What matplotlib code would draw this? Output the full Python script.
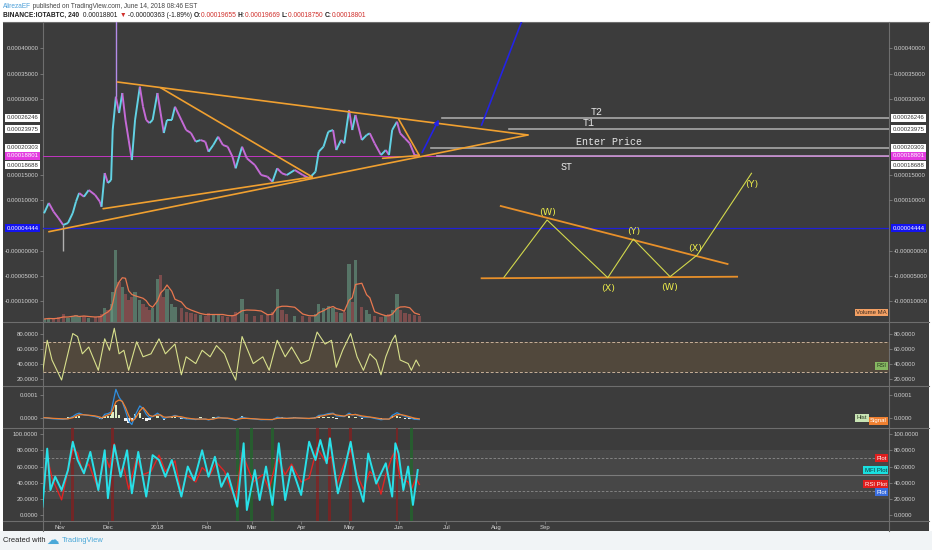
import matplotlib
matplotlib.use("Agg")
import matplotlib.pyplot as plt
import matplotlib.dates as mdates
from matplotlib.collections import LineCollection
from matplotlib.lines import Line2D
from matplotlib.patches import Rectangle
from matplotlib.transforms import blended_transform_factory as blend
import numpy as np
import pandas as pd

FONT = ["Liberation Sans", "DejaVu Sans"]
plt.rcParams["font.family"] = FONT

# ---------------- data ----------------
price_dates = ["2017-10-22", "2017-10-25", "2017-10-28", "2017-10-31", "2017-11-03", "2017-11-06",
               "2017-11-09", "2017-11-11", "2017-11-13", "2017-11-16", "2017-11-19", "2017-11-23",
               "2017-11-26", "2017-11-27", "2017-11-29", "2017-12-01", "2017-12-03", "2017-12-04",
               "2017-12-06", "2017-12-08", "2017-12-10", "2017-12-12", "2017-12-14", "2017-12-16",
               "2017-12-18", "2017-12-21", "2017-12-23", "2017-12-25", "2017-12-27", "2017-12-29",
               "2018-01-01", "2018-01-03", "2018-01-05", "2018-01-07", "2018-01-10", "2018-01-12",
               "2018-01-16", "2018-01-19", "2018-01-22", "2018-01-25", "2018-01-28", "2018-01-31",
               "2018-02-02", "2018-02-05", "2018-02-08", "2018-02-11", "2018-02-14", "2018-02-17",
               "2018-02-19", "2018-02-23", "2018-02-26", "2018-03-03", "2018-03-07", "2018-03-11",
               "2018-03-14", "2018-03-17", "2018-03-20", "2018-03-23", "2018-03-28", "2018-04-02",
               "2018-04-06", "2018-04-10", "2018-04-12", "2018-04-15", "2018-04-18", "2018-04-21",
               "2018-04-23", "2018-04-26", "2018-04-28", "2018-05-01", "2018-05-03", "2018-05-05",
               "2018-05-09", "2018-05-12", "2018-05-14", "2018-05-17", "2018-05-21", "2018-05-24",
               "2018-05-26", "2018-05-28", "2018-05-31", "2018-06-02", "2018-06-05", "2018-06-08",
               "2018-06-11", "2018-06-14"]
# close price in satoshi (1e-8 BTC)
price_sat = [7390, 9430, 7710, 6460, 5080, 5470, 7450, 9680, 11400, 10670, 11990, 11010,
             9680, 8690, 15350, 13380, 13970, 23850, 30430, 27210, 31160, 25830, 21870, 17920,
             25830, 32410, 28450, 25830, 25230, 25830, 31160, 27210, 23260, 25830, 25830, 28450,
             25830, 23850, 23260, 21540, 21870, 21540, 19560, 20890, 22530, 20890, 20550, 18570,
             16280, 20550, 18260, 16930, 14960, 14620, 13630, 16280, 15290, 14960, 15950, 14960,
             14310, 15610, 19560, 20550, 23510, 23850, 19900, 21870, 21220, 27800, 23850, 26810,
             21870, 22860, 23200, 21220, 18910, 19900, 18910, 23850, 25490, 23200, 22210, 21220,
             18910, 18801]
# long wicks (satoshi)
wick_dates = ["2017-12-06", "2017-11-03"]
wick_low = [30430, 0]
wick_high = [48000, 5080]
# volume (arbitrary units)
volume = [3, 4, 3, 5, 8, 4, 6, 7, 5, 6, 4, 5, 6, 8, 14, 12, 18, 30, 72, 40, 35, 28, 22, 25,
          30, 22, 18, 15, 12, 14, 43, 47, 25, 33, 18, 15, 14, 10, 9, 8, 7, 6, 9, 8, 7, 6,
          5, 7, 10, 23, 8, 6, 7, 8, 10, 33, 12, 8, 6, 6, 5, 8, 18, 14, 16, 14, 10, 9, 10,
          58, 20, 62, 15, 12, 8, 6, 5, 6, 8, 12, 28, 12, 9, 8, 7, 6]
# MACD (x1e-5) on price dates
macd = [0.0, -0.3, -0.5, -0.6, -0.7, -0.4, 0.5, 1.5, 2.0, 1.2, 1.0, 0.5, -0.2, -0.5,
        1.5, 1.8, 2.5, 6.0, 12.5, 9.0, 7.0, 3.0, -1.5, -3.0, 1.0, 5.2, 4.0, 1.5, 0.0, 0.5,
        2.0, 1.0, -0.5, 0.2, 0.5, 1.0,
        0.0, -0.5, -0.6, -0.8, -0.5, -0.6, -1.0, -0.5, 0.3, -0.2, -0.3, -0.8, -1.2, 0.3, -0.3,
        -0.6, -0.9, -0.8, -0.9, 0.2, -0.1, -0.3, 0.0, -0.3, -0.4, 0.0, 1.0, 1.2, 1.8, 2.0,
        0.8, 0.6, 0.5, 2.0, 1.2, 1.5, 0.3, 0.2, 0.2, -0.3, -0.9, -0.6, -0.7, 1.0, 2.2,
        1.5, 0.6, 0.0, -0.7, -0.8]
signal = [0.0, -0.1, -0.3, -0.4, -0.5, -0.5, 0.0, 0.7, 1.3, 1.3, 1.1, 0.8, 0.3, -0.1,
          0.6, 1.2, 1.8, 3.5, 7.0, 7.8, 7.2, 4.5, 1.0, -1.5, -0.5, 3.0, 4.5, 2.8, 1.0, 0.6,
          1.2, 1.2, 0.3, 0.2, 0.4, 0.7,
          0.4, -0.1, -0.4, -0.6, -0.6, -0.6, -0.8, -0.6, -0.1, -0.1, -0.2, -0.5, -0.9, -0.3, -0.3,
          -0.5, -0.7, -0.8, -0.8, -0.3, -0.2, -0.3, -0.1, -0.2, -0.3, -0.1, 0.5, 0.9, 1.4, 1.7,
          1.2, 0.9, 0.7, 1.4, 1.3, 1.4, 0.8, 0.5, 0.3, 0.0, -0.5, -0.6, -0.6, 0.2, 1.3,
          1.4, 1.0, 0.4, -0.2, -0.5]

rsi_dates = ["2017-10-21", "2017-10-24", "2017-10-27", "2017-11-02", "2017-11-05", "2017-11-09",
             "2017-11-12", "2017-11-15", "2017-11-19", "2017-11-25", "2017-11-29", "2017-12-02",
             "2017-12-05", "2017-12-08", "2017-12-11", "2017-12-14", "2017-12-19", "2017-12-23",
             "2017-12-28", "2018-01-02", "2018-01-06", "2018-01-12", "2018-01-16", "2018-01-19",
             "2018-01-25", "2018-01-29", "2018-02-03", "2018-02-07", "2018-02-12", "2018-02-16",
             "2018-02-19", "2018-02-23", "2018-03-02", "2018-03-08", "2018-03-12", "2018-03-17",
             "2018-03-22", "2018-03-26", "2018-04-01", "2018-04-06", "2018-04-11", "2018-04-16",
             "2018-04-20", "2018-04-23", "2018-04-27", "2018-05-02", "2018-05-06", "2018-05-10",
             "2018-05-14", "2018-05-18", "2018-05-21", "2018-05-24", "2018-05-28", "2018-05-30",
             "2018-06-02", "2018-06-07", "2018-06-09", "2018-06-12", "2018-06-14"]
rsi = [28, 72, 45.7, 19, 45.7, 81, 77, 54, 63, 32, 74, 58.7, 88, 54, 58.7, 32, 70, 50, 54, 74,
       54, 67, 26, 50, 41, 58.7, 50, 65, 54, 32, 19, 77, 41, 50, 32, 72, 50, 63, 41, 45.7,
       83, 67, 72, 36, 58.7, 81, 50, 32, 54, 45.7, 26, 50, 72, 79, 45.7, 41, 32, 45.7, 38]

mfi_dates = ["2017-10-21", "2017-10-24", "2017-10-26", "2017-10-29", "2017-11-02", "2017-11-06",
             "2017-11-09", "2017-11-12", "2017-11-16", "2017-11-20", "2017-11-25", "2017-11-29",
             "2017-12-01", "2017-12-05", "2017-12-09", "2017-12-13", "2017-12-16", "2017-12-20",
             "2017-12-25", "2017-12-29", "2018-01-02", "2018-01-06", "2018-01-10", "2018-01-16",
             "2018-01-20", "2018-01-24", "2018-01-29", "2018-02-02", "2018-02-06", "2018-02-10",
             "2018-02-14", "2018-02-20", "2018-02-24", "2018-02-26", "2018-03-03", "2018-03-06",
             "2018-03-10", "2018-03-14", "2018-03-18", "2018-03-22", "2018-03-26", "2018-04-01",
             "2018-04-06", "2018-04-10", "2018-04-13", "2018-04-17", "2018-04-19", "2018-04-24",
             "2018-04-28", "2018-05-02", "2018-05-06", "2018-05-10", "2018-05-13", "2018-05-18",
             "2018-05-24", "2018-05-28", "2018-05-30", "2018-06-01", "2018-06-04", "2018-06-07",
             "2018-06-10", "2018-06-13"]
mfi = [10.6, 82, 31, 47.5, 31, 55.7, 90.5, 68, 51.6, 78, 31, 80, 21, 86.5, 47.5, 80, 27, 78,
       23, 74, 68, 47.5, 68, 23, 60, 43, 80, 47.5, 72, 35, 51.6, 10.6, 88.6, 6.5, 55.7, 18.8,
       60, 12.7, 88.6, 18.8, 60, 25, 90.5, 68, 92.6, 64, 94.7, 27, 55.7, 90.5, 43, 16.7, 76,
       39, 64, 23, 88.6, 76, 31, 60, 12.7, 55.7]
mfi_red_dates = ["2017-11-09", "2017-12-04", "2018-04-11", "2018-04-19", "2018-05-02", "2018-05-31"]
mfi_green_dates = ["2018-02-20", "2018-03-01", "2018-03-14", "2018-06-09"]

# horizontal levels
level_values = [0.00026246, 0.00023975, 0.00020303, 0.00018688]
level_starts = ["2018-06-28", "2018-08-09", "2018-06-21", "2018-06-25"]
level_names = ["T2", "T1", "Enter Price", "ST"]
level_name_dates = ["2018-10-03", "2018-09-28", "2018-10-11", "2018-09-14"]
level_name_values = [0.0002741, 0.0002524, 0.0002148, 0.0001654]
last_price = 0.00018801
blue_level = 0.00004444

# trend lines (date, price)
tri_lines = [
    (("2017-12-07", 3.334e-4), ("2018-08-21", 2.287e-4)),
    (("2017-10-25", 0.375e-4), ("2018-08-21", 2.287e-4)),
    (("2017-11-28", 0.830e-4), ("2018-04-08", 1.457e-4)),
    (("2018-01-03", 3.221e-4), ("2018-04-08", 1.457e-4)),
    (("2018-06-01", 2.603e-4), ("2018-06-14", 1.881e-4)),
    (("2018-05-22", 1.826e-4), ("2018-06-14", 1.881e-4)),
]
arrow_small = (("2018-06-15", 1.891e-4), ("2018-06-27", 2.642e-4))
arrow_long = (("2018-07-23", 2.484e-4), ("2018-08-22", 4.927e-4))

ew_upper = (("2018-08-04", 0.883e-4), ("2018-12-24", -0.263e-4))
ew_lower = (("2018-07-23", -0.545e-4), ("2018-12-30", -0.514e-4))
ew_dates = ["2018-08-06", "2018-09-02", "2018-10-10", "2018-10-26", "2018-11-18", "2018-12-05", "2019-01-08"]
ew_values = [-0.526e-4, 0.607e-4, -0.534e-4, 0.231e-4, -0.514e-4, -0.085e-4, 1.530e-4]
ew_labels = ["(W)", "(Y)", "(X)", "(W)", "(X)", "(Y)"]
ew_label_dates = ["2018-09-02", "2018-10-26", "2018-10-10", "2018-11-18", "2018-12-04", "2019-01-08"]
ew_label_values = [0.751e-4, 0.389e-4, -0.743e-4, -0.737e-4, 0.034e-4, 1.318e-4]

main_ticks = [0.0004, 0.00035, 0.0003, 0.00015, 0.0001, 0.0, -0.00005, -0.0001]
main_tick_labels = ["0.00040000", "0.00035000", "0.00030000", "0.00015000", "0.00010000",
                    "-0.00000000", "-0.00005000", "-0.00010000"]
month_ticks = ["2017-11-01", "2017-12-01", "2018-01-01", "2018-02-01", "2018-03-01", "2018-04-01",
               "2018-05-01", "2018-06-01", "2018-07-01", "2018-08-01", "2018-09-01"]
month_labels = ["Nov", "Dec", "2018", "Feb", "Mar", "Apr", "May", "Jun", "Jul", "Aug", "Sep"]

# ---------------- figure ----------------
W, H = 932, 550
fig = plt.figure(figsize=(W / 100, H / 100), dpi=100, facecolor="white")
BG = "#3c3c3c"
SEP = "#6e6e6e"
LBL = "#d2d2d2"
XL, XR = 42.7, 889.0


def rect(x0, y0, x1, y1):
    return [x0 / W, 1 - y1 / H, (x1 - x0) / W, (y1 - y0) / H]


fig.patches.append(Rectangle((3 / W, 1 - 531 / H), 926 / W, 509 / H, transform=fig.transFigure,
                             facecolor=BG, edgecolor="none", zorder=0))
fig.patches.append(Rectangle((0, 0), 1, 19 / H, transform=fig.transFigure,
                             facecolor="#f1f4f6", edgecolor="none", zorder=0))

nov1 = mdates.datestr2num("2017-11-01")
x_left = nov1 - 10.83
x_right = nov1 + 519.1

d = lambda s: mdates.datestr2num(s)


def pane(y0, y1, z=2):
    ax = fig.add_axes(rect(XL, y0, XR, y1), zorder=z)
    ax.set_facecolor("none")
    for s in ax.spines.values():
        s.set_visible(False)
    ax.set_xlim(x_left, x_right)
    ax.tick_params(axis="x", bottom=False, labelbottom=False)
    ax.tick_params(axis="y", left=True, right=True, labelleft=True, labelright=True,
                   length=2, width=0.5, color="#8a8a8a", labelcolor=LBL, labelsize=4.3, pad=1.2)
    return ax


def box(ax, y, text, fc, tc, dy=0, sides=("l", "r"), inside=False, dx=0):
    tr = blend(ax.transAxes, ax.transData)
    kw = dict(fontsize=4.3, color=tc, va="center", annotation_clip=False,
              bbox=dict(boxstyle="square,pad=0.25", fc=fc, ec="none"), zorder=10)
    if inside:
        ax.annotate(text, xy=(1, y), xycoords=tr, xytext=(-1.5 + dx, dy), textcoords="offset points",
                    ha="right", **kw)
        return
    if "l" in sides:
        ax.annotate(text, xy=(0, y), xycoords=tr, xytext=(-3, dy), textcoords="offset points",
                    ha="right", **kw)
    if "r" in sides:
        ax.annotate(text, xy=(1, y), xycoords=tr, xytext=(2.6, dy), textcoords="offset points",
                    ha="left", **kw)


px = mdates.datestr2num(price_dates)
price = np.array(price_sat) * 1e-8

# ---- volume (under main) ----
ax_vol = fig.add_axes(rect(XL, 22, XR, 322), zorder=1)
ax_vol.set_facecolor("none")
ax_vol.set_axis_off()
ax_vol.set_xlim(x_left, x_right)
ax_vol.set_ylim(0, 300)
up = np.r_[True, np.diff(price) >= 0]
vcol = np.where(up, "#6a9c84", "#a85858")
ax_vol.bar(px, volume, width=2.0, color=vcol, alpha=0.6, linewidth=0)
vol_ma = pd.Series(volume).rolling(4, min_periods=1).mean().values
ax_vol.plot(px, vol_ma, color="#e8774f", lw=0.9)

# ---- main ----
ax = pane(22, 322, z=2)
ymin = (250.7 - 322) / 25.3 * 5e-5
ymax = (250.7 - 22) / 25.3 * 5e-5
ax.set_ylim(ymin, ymax)
ax.set_yticks(main_ticks)
ax.set_yticklabels(main_tick_labels)

segs = [[(px[i - 1], price[i - 1]), (px[i], price[i])] for i in range(1, len(px))]
cols = ["#62d2e4" if price[i] >= price[i - 1] else "#c46ad6" for i in range(1, len(px))]
ax.add_collection(LineCollection(segs, colors=cols, linewidths=1.4, zorder=4))
wx = mdates.datestr2num(wick_dates)
ax.vlines(wx, np.array(wick_low) * 1e-8, np.array(wick_high) * 1e-8, colors=["#b48ce8", "#b0b0b0"],
          lw=1.0, zorder=3)

# full-width lines
ax.axhline(last_price, color="#c236c2", lw=0.7, zorder=3)
ax.axhline(blue_level, color="#2020d8", lw=0.9, zorder=3)

# level lines
lvl_colors = ["#a9a9a9", "#a9a9a9", "#a9a9a9", "#c69ad0"]
for v, s, c in zip(level_values, level_starts, lvl_colors):
    ax.plot([d(s), x_right], [v, v], color=c, lw=1.2, zorder=3)
for name, nd, nv in zip(level_names, level_name_dates, level_name_values):
    ax.text(d(nd), nv, name, family=["Liberation Mono", "DejaVu Sans Mono"], fontsize=7.2,
            color="#e6e6e6", ha="center", va="center", zorder=6)

# trend lines
for (a, b) in tri_lines:
    ax.plot([d(a[0]), d(b[0])], [a[1], b[1]], color="#f0a030", lw=1.2, zorder=5,
            solid_capstyle="round")
ax.annotate("", xy=(d(arrow_small[1][0]), arrow_small[1][1]),
            xytext=(d(arrow_small[0][0]), arrow_small[0][1]),
            arrowprops=dict(arrowstyle="-|>", color="#2323e6", lw=1.2, mutation_scale=7), zorder=6)
ax.plot([d(arrow_long[0][0]), d(arrow_long[1][0])], [arrow_long[0][1], arrow_long[1][1]],
        color="#2323e6", lw=1.2, zorder=6)

# elliott drawing
for (a, b) in (ew_upper, ew_lower):
    ax.plot([d(a[0]), d(b[0])], [a[1], b[1]], color="#e8902a", lw=1.3, zorder=5)
ax.plot(mdates.datestr2num(ew_dates), ew_values, color="#d2d84c", lw=0.8, zorder=5)
for lab, ld, lv in zip(ew_labels, ew_label_dates, ew_label_values):
    ax.text(d(ld), lv, lab, fontsize=6.8, color="#ecec4a", ha="center", va="center",
            family=["DejaVu Sans"], zorder=6)

# axis boxes
box(ax, 0.00026246, "0.00026246", "white", "#333333")
box(ax, 0.00023975, "0.00023975", "white", "#333333")
box(ax, 0.00020303, "0.00020303", "white", "#333333")
box(ax, 0.00018688, "0.00018688", "white", "#333333", dy=-6.4)
box(ax, last_price, "0.00018801", "#e33be0", "white")
box(ax, blue_level, "0.00004444", "#1414f0", "white")
box(ax_vol, vol_ma[-1] + 2, "Volume MA", "#f3a064", "#3a2a20", inside=True)

# ---- RSI pane ----
ar = pane(322, 386)
ar.set_ylim((394.3 - 386) / 0.75, (394.3 - 322) / 0.75)
ar.set_yticks([20, 40, 60, 80])
ar.set_yticklabels(["20.0000", "40.0000", "60.0000", "80.0000"])
ar.axhspan(30, 70, color="#f0a040", alpha=0.12, lw=0)
for lv in (30, 70):
    ar.axhline(lv, color="#c8b098", lw=0.7, dashes=(3, 2))
ar.plot(mdates.datestr2num(rsi_dates), rsi, color="#d8e08c", lw=0.8)
box(ar, rsi[-1], "RSI", "#86b862", "#2a3a20", inside=True)

# ---- MACD pane ----
am = pane(386, 428)
am.set_ylim((417.7 - 428) / 22.7 * 1e-4, (417.7 - 386) / 22.7 * 1e-4)
am.set_yticks([0.0001, 0.0])
am.set_yticklabels(["0.0001", "0.0000"])
macd_v = np.array(macd) * 1e-5
sig_v = np.array(signal) * 1e-5
hist_v = macd_v - sig_v
am.bar(px, hist_v, width=1.6, color=np.where(hist_v >= 0, "#dcefc8", "#f2f2f2"), lw=0)
am.plot(px, macd_v, color="#2f8fe0", lw=0.9)
am.plot(px, sig_v, color="#f08030", lw=0.9)
box(am, hist_v[-1] + 0.03e-4, "Hist", "#c8e4b4", "#2a3a20", inside=True, dx=-14)
box(am, sig_v[-1] - 0.08e-4, "Signal", "#f08030", "white", inside=True)

# ---- MFI pane ----
af = pane(428, 521)
af.set_ylim((515.3 - 521) / 0.813, (515.3 - 428) / 0.813)
af.set_yticks([0, 20, 40, 60, 80, 100])
af.set_yticklabels(["0.0000", "20.0000", "40.0000", "60.0000", "80.0000", "100.0000"])
af.axhspan(20, 80, color="#ffffff", alpha=0.06, lw=0)
af.axhline(50, color="#7c7c7c", lw=0.8)
for lv in (30, 70):
    af.axhline(lv, color="#8c8c8c", lw=0.6, dashes=(3, 2))
for s in mfi_red_dates:
    af.axvspan(d(s) - 0.9, d(s) + 0.9, color="#8a1e1e", alpha=0.7, lw=0)
for s in mfi_green_dates:
    af.axvspan(d(s) - 0.9, d(s) + 0.9, color="#1f6a2a", alpha=0.7, lw=0)
af.plot(mdates.datestr2num(rsi_dates), rsi, color="#e02424", lw=1.0)
af.plot(mdates.datestr2num(mfi_dates), mfi, color="#28e0e8", lw=1.4)
box(af, 70, "Plot", "#e01e1e", "white", inside=True)
box(af, mfi[-1], "MFI Plot", "#19e0e0", "#153838", inside=True)
box(af, rsi[-1], "RSI Plot", "#e01e1e", "white", inside=True)
box(af, 30, "Plot", "#3a6ee0", "white", inside=True, dy=-1)
af.set_xticks(mdates.datestr2num(month_ticks))
af.set_xticklabels(month_labels)
af.tick_params(axis="x", bottom=True, labelbottom=True, length=2, width=0.5, color="#8a8a8a",
               labelcolor=LBL, labelsize=4.3, pad=0.8)

# separators
for yy in (22, 322, 386, 428, 521):
    fig.add_artist(Line2D([3 / W, 929 / W], [1 - yy / H] * 2, color=SEP, lw=0.8))
for xx in (XL, XR):
    fig.add_artist(Line2D([xx / W] * 2, [1 - 22 / H, 1 - 531 / H], color=SEP, lw=0.8))

# header
renderer = fig.canvas.get_renderer()


def seq_text(x_px, y_px, pieces, size):
    x = x_px
    for s, color, weight in pieces:
        t = fig.text(x / W, 1 - y_px / H, s, fontsize=size, color=color, fontweight=weight,
                     va="center", ha="left", family=FONT)
        x += t.get_window_extent(renderer).width


seq_text(3, 6, [("AlirezaEF", "#4c9fd8", "normal"),
                (" published on TradingView.com, June 14, 2018 08:46 EST", "#444444", "normal")], 4.7)
red = "#d0302c"
seq_text(3, 15.5, [("BINANCE:IOTABTC, 240 ", "#1e1e1e", "bold"),
                   (" 0.00018801 ", "#1e1e1e", "normal"), ("▼", red, "normal"),
                   (" -0.00000363 (-1.89%) ", "#1e1e1e", "normal"),
                   ("O:", "#1e1e1e", "bold"), ("0.00019655 ", red, "normal"),
                   ("H:", "#1e1e1e", "bold"), ("0.00019669 ", red, "normal"),
                   ("L:", "#1e1e1e", "bold"), ("0.00018750 ", red, "normal"),
                   ("C:", "#1e1e1e", "bold"), ("0.00018801", red, "normal")], 4.75)

# footer
fig.text(3 / W, 1 - 541 / H, "Created with", fontsize=5.4, color="#222222", va="center", ha="left")
fig.text(46 / W, 1 - 540 / H, "☁", fontsize=9, color="#4aa8d8", va="center", ha="left",
         family=["DejaVu Sans"])
fig.text(62 / W, 1 - 541 / H, "TradingView", fontsize=5.4, color="#4aa8d8", va="center", ha="left")

fig.savefig("out.png", dpi=100, facecolor="white")
